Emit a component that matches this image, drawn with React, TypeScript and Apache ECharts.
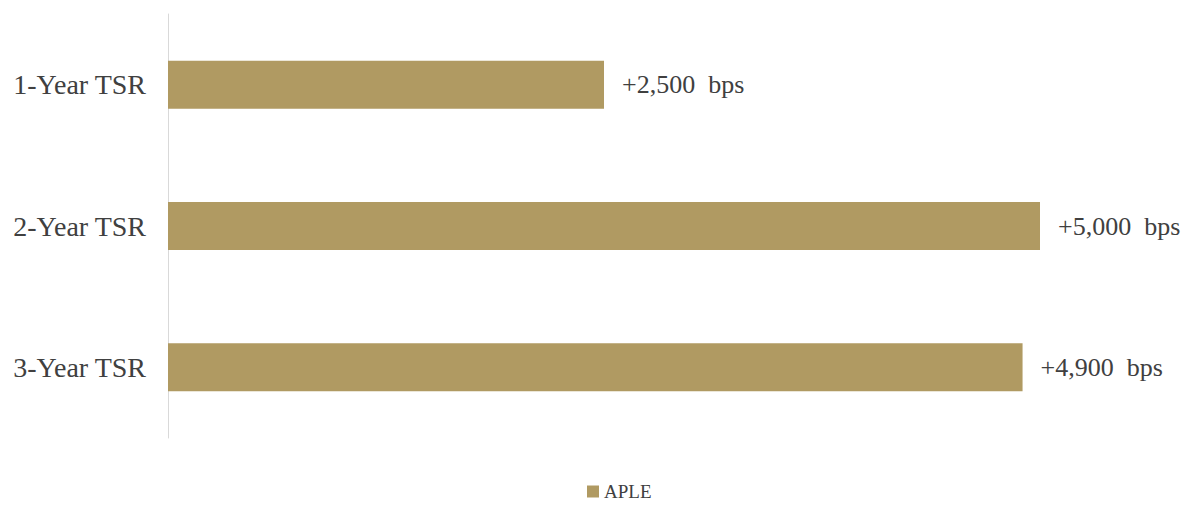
import React, { useEffect, useRef } from "react";
import * as echarts from "echarts";

const categories = ["1-Year TSR", "2-Year TSR", "3-Year TSR"];
const values = [2500, 5000, 4900];
const seriesName = "APLE";

export default function App() {
  const ref = useRef<HTMLDivElement>(null);
  useEffect(() => {
    if (!ref.current) return;
    const chart = echarts.init(ref.current, null, { renderer: "svg" });
    const font = "'Liberation Serif', 'Times New Roman', serif";
    chart.setOption({
      animation: false,
      backgroundColor: "#ffffff",
      grid: { left: 168, right: 143, top: 14, bottom: 67, containLabel: false },
      xAxis: {
        type: "value",
        min: 0,
        max: 5000,
        show: false,
      },
      yAxis: {
        type: "category",
        data: categories,
        inverse: true,
        axisLine: { show: true, lineStyle: { color: "#d9d9d9", width: 1 } },
        axisTick: { show: false },
        axisLabel: { color: "#404040", fontSize: 28, fontFamily: font, margin: 22 },
      },
      legend: {
        show: true,
        left: 582,
        top: 477,
        icon: "rect",
        itemWidth: 12,
        itemHeight: 12,
        itemGap: 6,
        textStyle: { color: "#404040", fontSize: 19, fontFamily: font, lineHeight: 19 },
        data: [seriesName],
      },
      series: [
        {
          name: seriesName,
          type: "bar",
          data: values,
          barWidth: 48,
          itemStyle: { color: "#b09a62" },
          label: {
            show: true,
            position: "right",
            distance: 18,
            color: "#404040",
            fontSize: 26,
            fontFamily: font,
            formatter: (p: any) => "+" + Number(p.value).toLocaleString("en-US") + "  bps",
          },
        },
      ],
    });
    return () => chart.dispose();
  }, []);
  return (
    <div
      ref={ref}
      style={{ position: "fixed", left: 0, top: 0, width: 1183, height: 505 }}
    />
  );
}
